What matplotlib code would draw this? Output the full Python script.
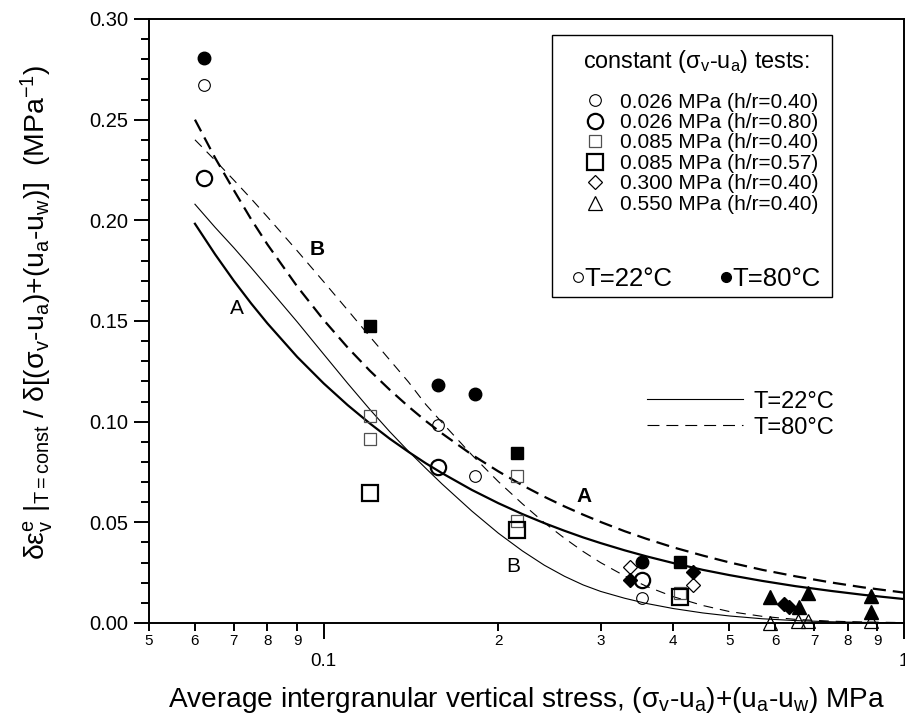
import matplotlib
matplotlib.use("Agg")
import matplotlib.pyplot as plt
from matplotlib.ticker import FixedLocator, FixedFormatter
from matplotlib.lines import Line2D
from matplotlib.patches import Rectangle

plt.rcParams['font.family'] = ['Liberation Sans', 'DejaVu Sans']
plt.rcParams['mathtext.fontset'] = 'custom'
plt.rcParams['mathtext.rm'] = 'Liberation Sans'
plt.rcParams['mathtext.it'] = 'Liberation Sans:italic'
plt.rcParams['mathtext.bf'] = 'Liberation Sans:bold'
plt.rcParams['lines.scale_dashes'] = False

# model curves
x_curve = [0.06, 0.065, 0.07, 0.075, 0.08, 0.09, 0.10, 0.11, 0.12, 0.13, 0.14, 0.15, 0.16, 0.18,
           0.20, 0.22, 0.24, 0.26, 0.28, 0.30, 0.33, 0.36, 0.40, 0.45, 0.50, 0.57, 0.65, 0.75, 0.85, 1.0]
y_A22 = [0.1983, 0.1831, 0.1700, 0.1587, 0.1488, 0.1322, 0.1190, 0.1082, 0.0992, 0.0915, 0.0850, 0.0793,
         0.0744, 0.0661, 0.0595, 0.0541, 0.0496, 0.0458, 0.0425, 0.0397, 0.0361, 0.0331, 0.0298, 0.0264,
         0.0238, 0.0209, 0.0183, 0.0159, 0.0140, 0.0119]
y_A80 = [0.2500, 0.2310, 0.2150, 0.2005, 0.1880, 0.1672, 0.1505, 0.1368, 0.1254, 0.1158, 0.1075, 0.1003,
         0.0941, 0.0836, 0.0753, 0.0684, 0.0627, 0.0579, 0.0538, 0.0502, 0.0456, 0.0418, 0.0376, 0.0335,
         0.0301, 0.0264, 0.0232, 0.0201, 0.0177, 0.0151]
y_B22 = [0.2080, 0.1965, 0.1864, 0.1765, 0.1670, 0.1496, 0.1335, 0.1190, 0.1062, 0.0950, 0.0853, 0.0768,
         0.0690, 0.0556, 0.0446, 0.0358, 0.0287, 0.0232, 0.0189, 0.0157, 0.0123, 0.0097, 0.0072, 0.0050,
         0.0035, 0.0021, 0.0012, 0.0006, 0.0003, 0.0001]
y_B80 = [0.2400, 0.2298, 0.2200, 0.2107, 0.2017, 0.1849, 0.1695, 0.1554, 0.1424, 0.1306, 0.1197, 0.1085,
         0.0995, 0.0835, 0.0702, 0.0592, 0.0498, 0.0421, 0.0355, 0.0300, 0.0234, 0.0182, 0.0131, 0.0087,
         0.0057, 0.0033, 0.0018, 0.0009, 0.0005, 0.0002]

# test data, 0.026 MPa h/r=0.40
c04_x = [0.0622, 0.1573, 0.1826, 0.3535]
c04_y22 = [0.2673, 0.0982, 0.0730, 0.0123]
c04_y80 = [0.2808, 0.1181, 0.1136, 0.0305]
# 0.026 MPa h/r=0.80
c08_x = [0.0621, 0.1573, 0.3535]
c08_y22 = [0.2209, 0.0777, 0.0214]
# 0.085 MPa h/r=0.40
s04_x22 = [0.1202, 0.1202, 0.2157, 0.2157, 0.4116]
s04_y22 = [0.1028, 0.0914, 0.0730, 0.0508, 0.0150]
s04_x80 = [0.1202, 0.2157, 0.4116]
s04_y80 = [0.1475, 0.0846, 0.0305]
# 0.085 MPa h/r=0.57
s057_x = [0.1202, 0.2157, 0.4116]
s057_y22 = [0.0646, 0.0462, 0.0131]
# 0.300 MPa
d_x22 = [0.3366, 0.4330]
d_y22 = [0.0277, 0.0189]
d_x80 = [0.3366, 0.4330, 0.6220, 0.6340]
d_y80 = [0.0214, 0.0255, 0.0093, 0.0080]
# 0.550 MPa
t_x22 = [0.5876, 0.6555, 0.6825, 0.8786]
t_y22 = [0.0000, 0.0010, 0.0010, 0.0010]
t_x80 = [0.5886, 0.6585, 0.6825, 0.8786, 0.8786]
t_y80 = [0.0131, 0.0081, 0.0147, 0.0134, 0.0056]

legend_labels = ["0.026 MPa (h/r=0.40)", "0.026 MPa (h/r=0.80)", "0.085 MPa (h/r=0.40)",
                 "0.085 MPa (h/r=0.57)", "0.300 MPa (h/r=0.40)", "0.550 MPa (h/r=0.40)"]

x_major = [0.1, 1.0]
x_major_labels = ["0.1", "1"]
x_minor = [0.05, 0.06, 0.07, 0.08, 0.09, 0.2, 0.3, 0.4, 0.5, 0.6, 0.7, 0.8, 0.9]
x_minor_labels = ["5", "6", "7", "8", "9", "2", "3", "4", "5", "6", "7", "8", "9"]
y_major = [0.0, 0.05, 0.10, 0.15, 0.20, 0.25, 0.30]
y_minor = [i / 100 for i in range(31)]

fig = plt.figure(figsize=(9.05, 7.24), dpi=100)
ax = fig.add_axes([149 / 905, 101 / 724, 755 / 905, 604 / 724])
ax.set_xscale('log')

ax.plot(x_curve, y_A22, color='k', lw=1.6)
ax.plot(x_curve, y_B22, color='k', lw=0.8)
ax.plot(x_curve, y_A80, color='k', lw=1.6, linestyle=(0, (9.5, 5)))
ax.plot(x_curve, y_B80, color='k', lw=0.8, linestyle=(0, (7, 5)))

mk = dict(linestyle='none', clip_on=False, zorder=3)
h1, = ax.plot(c04_x, c04_y22, marker='o', ms=8.4, mfc='none', mec='k', mew=0.8, **mk)
ax.plot(c04_x, c04_y80, marker='o', ms=9, mfc='k', mec='k', **mk)
h2, = ax.plot(c08_x, c08_y22, marker='o', ms=11, mfc='none', mec='k', mew=1.6, **mk)
h3, = ax.plot(s04_x22, s04_y22, marker='s', ms=8.2, mfc='none', mec='#505050', mew=0.9, **mk)
ax.plot(s04_x80, s04_y80, marker='s', ms=8.5, mfc='k', mec='k', **mk)
h4, = ax.plot(s057_x, s057_y22, marker='s', ms=11, mfc='none', mec='k', mew=1.6, **mk)
h5, = ax.plot(d_x22, d_y22, marker='D', ms=7, mfc='none', mec='k', mew=0.9, **mk)
ax.plot(d_x80, d_y80, marker='D', ms=7, mfc='k', mec='k', **mk)
h6, = ax.plot(t_x22, t_y22, marker='^', ms=10.5, mfc='none', mec='k', mew=0.9, **mk)
ax.plot(t_x80, t_y80, marker='^', ms=10.5, mfc='k', mec='k', **mk)

ax.text(0.0708, 0.156, "A", fontsize=15, ha='center', va='center')
ax.text(0.0973, 0.1853, "B", fontsize=15, fontweight='bold', ha='center', va='center')
ax.text(0.2119, 0.028, "B", fontsize=15, ha='center', va='center')
ax.text(0.281, 0.0627, "A", fontsize=15, fontweight='bold', ha='center', va='center')

ax.set_xlim(0.05, 1.0)
ax.set_ylim(0, 0.30)

ax.xaxis.set_major_locator(FixedLocator(x_major))
ax.xaxis.set_major_formatter(FixedFormatter(x_major_labels))
ax.xaxis.set_minor_locator(FixedLocator(x_minor))
ax.xaxis.set_minor_formatter(FixedFormatter(x_minor_labels))
ax.yaxis.set_major_locator(FixedLocator(y_major))
ax.yaxis.set_major_formatter(FixedFormatter(["%.2f" % v for v in y_major]))
ax.yaxis.set_minor_locator(FixedLocator(y_minor))
ax.tick_params(axis='x', which='major', direction='out', length=11.5, width=1.4, pad=10, labelsize=13.5)
ax.tick_params(axis='x', which='minor', direction='out', length=5.8, width=1.4, pad=2, labelsize=11)
ax.tick_params(axis='y', which='major', direction='out', length=10.8, width=1.4, pad=4, labelsize=14.5)
ax.tick_params(axis='y', which='minor', direction='out', length=5.8, width=1.4)
for sp in ax.spines.values():
    sp.set_linewidth(1.4)

ax.set_xlabel("Average intergranular vertical stress, ($\\mathregular{σ_v}$-$\\mathregular{u_a}$)+($\\mathregular{u_a}$-$\\mathregular{u_w}$) MPa",
              fontsize=20.2)
ax.xaxis.set_label_coords(0.5, -0.103)
ax.set_ylabel("$\\mathregular{δε^e_v}$ |$\\mathregular{_{T=const}}$ / δ[($\\mathregular{σ_v}$-$\\mathregular{u_a}$)+($\\mathregular{u_a}$-$\\mathregular{u_w}$)]  (MPa$\\mathregular{^{-1}}$)",
              fontsize=20.4)
ax.yaxis.set_label_coords(-0.1245, 0.515)

# marker legend box
ax.add_patch(Rectangle((0.5334, 0.5402), 0.3709, 0.4333, transform=ax.transAxes,
                       fill=False, ec='k', lw=1.0, zorder=4))
ax.text(0.7245, 0.9195, "constant ($\\mathregular{σ_v}$-$\\mathregular{u_a}$) tests:",
        transform=ax.transAxes, ha='center', va='baseline', fontsize=16.8)
leg1 = ax.legend([h1, h2, h3, h4, h5, h6], legend_labels, loc='upper left',
                 bbox_to_anchor=(0.5770, 0.8783), frameon=False, fontsize=15,
                 handlelength=1.0, handletextpad=0.70, labelspacing=0.07,
                 borderpad=0, borderaxespad=0)
ax.add_artist(leg1)
t22 = Line2D([], [], linestyle='none', marker='o', ms=7, mfc='none', mec='k', mew=0.8)
t80 = Line2D([], [], linestyle='none', marker='o', ms=7, mfc='k', mec='k')
leg2 = ax.legend([t22, t80], ["T=22°C", "T=80°C"], loc='center left',
                 bbox_to_anchor=(0.5597, 0.5694), frameon=False, fontsize=18.5, ncol=2,
                 handlelength=0.5, handletextpad=0.0, columnspacing=1.85,
                 borderpad=0, borderaxespad=0)
ax.add_artist(leg2)

# line style legend
l22 = Line2D([], [], color='k', lw=0.8)
l80 = Line2D([], [], color='k', lw=0.8, linestyle=(0, (8.6, 5)))
ax.legend([l22, l80], ["T=22°C", "T=80°C"], loc='center left',
          bbox_to_anchor=(0.6592, 0.3450), frameon=False, fontsize=17,
          handlelength=4.09, handletextpad=0.42, labelspacing=0.16,
          borderpad=0, borderaxespad=0)

fig.savefig("out.png", dpi=100)
